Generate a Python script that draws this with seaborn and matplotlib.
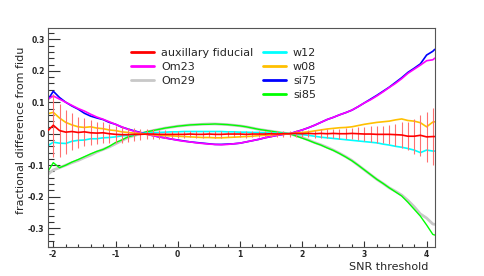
import matplotlib
matplotlib.use('Agg')
import matplotlib.pyplot as plt
from matplotlib.lines import Line2D
from matplotlib.ticker import MultipleLocator, FuncFormatter
import seaborn as sns

# SNR threshold grid
snr = [-2.08, -2.0, -1.9, -1.8, -1.7, -1.6, -1.5, -1.4, -1.3, -1.2, -1.1,
       -1.0, -0.9, -0.8, -0.7, -0.6, -0.5, -0.4, -0.3, -0.2, -0.1,
       0.0, 0.1, 0.2, 0.3, 0.4, 0.5, 0.6, 0.7, 0.8, 0.9,
       1.0, 1.1, 1.2, 1.3, 1.4, 1.5, 1.6, 1.7, 1.8, 1.9,
       2.0, 2.1, 2.2, 2.3, 2.4, 2.5, 2.6, 2.7, 2.8, 2.9,
       3.0, 3.1, 3.2, 3.3, 3.4, 3.5, 3.6, 3.7, 3.8, 3.9,
       4.0, 4.1, 4.13]

aux_fid = [0.011, 0.027, 0.010, 0.005, 0.007, 0.004, 0.006, 0.003, 0.002, 0.003, 0.000,
           -0.002, -0.003, -0.003, -0.002, -0.002, -0.001, -0.001, -0.002, -0.002, -0.002,
           -0.002, -0.002, -0.001, -0.002, -0.002, -0.001, -0.002, -0.002, -0.001, -0.001,
           -0.001, -0.002, -0.001, -0.001, -0.001, 0.000, -0.001, 0.000, 0.000, 0.001,
           0.000, 0.001, 0.000, 0.001, 0.000, 0.001, 0.000, 0.000, 0.001, 0.000,
           -0.001, -0.001, -0.002, -0.002, -0.002, -0.003, -0.004, -0.008, -0.008, -0.005,
           -0.010, -0.009, -0.009]

aux_err = [0.0, 0.100, 0.085, 0.070, 0.060, 0.050, 0.045, 0.040, 0.036, 0.034, 0.030,
           0.028, 0.025, 0.022, 0.020, 0.018, 0.016, 0.015, 0.014, 0.013, 0.012,
           0.011, 0.011, 0.010, 0.010, 0.010, 0.010, 0.010, 0.010, 0.010, 0.010,
           0.010, 0.010, 0.010, 0.010, 0.010, 0.010, 0.010, 0.010, 0.010, 0.010,
           0.010, 0.011, 0.012, 0.013, 0.014, 0.015, 0.016, 0.017, 0.018, 0.020,
           0.022, 0.024, 0.026, 0.028, 0.030, 0.035, 0.040, 0.045, 0.055, 0.065,
           0.080, 0.090, 0.0]

om23 = [0.110, 0.120, 0.110, 0.100, 0.090, 0.080, 0.072, 0.062, 0.053, 0.046, 0.038,
        0.030, 0.022, 0.014, 0.008, 0.003, -0.002, -0.006, -0.010, -0.014, -0.017,
        -0.021, -0.024, -0.026, -0.029, -0.031, -0.033, -0.034, -0.035, -0.034, -0.032,
        -0.030, -0.026, -0.022, -0.018, -0.013, -0.009, -0.005, -0.002, 0.000, 0.006,
        0.012, 0.019, 0.027, 0.036, 0.045, 0.052, 0.060, 0.067, 0.075, 0.086,
        0.098, 0.108, 0.120, 0.133, 0.147, 0.160, 0.175, 0.192, 0.205, 0.218,
        0.232, 0.235, 0.240]

om29 = [-0.128, -0.115, -0.108, -0.100, -0.092, -0.085, -0.076, -0.068, -0.058, -0.050, -0.042,
        -0.032, -0.022, -0.012, -0.006, 0.000, 0.005, 0.010, 0.014, 0.018, 0.021,
        0.024, 0.026, 0.028, 0.029, 0.030, 0.031, 0.031, 0.030, 0.029, 0.027,
        0.025, 0.022, 0.018, 0.014, 0.011, 0.008, 0.005, 0.002, 0.000, -0.006,
        -0.012, -0.020, -0.028, -0.035, -0.043, -0.052, -0.062, -0.073, -0.085, -0.100,
        -0.115, -0.130, -0.145, -0.158, -0.172, -0.183, -0.195, -0.212, -0.232, -0.255,
        -0.268, -0.287, -0.288]

w12 = [-0.037, -0.027, -0.030, -0.031, -0.024, -0.021, -0.020, -0.016, -0.016, -0.013, -0.012,
       -0.010, -0.007, -0.005, -0.003, 0.000, 0.002, 0.003, 0.004, 0.005, 0.006,
       0.006, 0.007, 0.007, 0.007, 0.007, 0.007, 0.007, 0.007, 0.006, 0.006,
       0.005, 0.005, 0.004, 0.004, 0.003, 0.002, 0.002, 0.001, 0.000, -0.001,
       -0.003, -0.005, -0.008, -0.011, -0.013, -0.015, -0.017, -0.019, -0.021, -0.023,
       -0.025, -0.027, -0.029, -0.033, -0.036, -0.040, -0.043, -0.047, -0.052, -0.060,
       -0.052, -0.055, -0.055]

w08 = [0.064, 0.068, 0.050, 0.036, 0.028, 0.022, 0.020, 0.022, 0.018, 0.016, 0.012,
       0.010, 0.006, 0.004, 0.002, 0.000, -0.002, -0.003, -0.005, -0.006, -0.007,
       -0.008, -0.009, -0.010, -0.011, -0.012, -0.012, -0.013, -0.013, -0.012, -0.011,
       -0.010, -0.009, -0.008, -0.006, -0.005, -0.004, -0.002, -0.001, 0.000, 0.002,
       0.004, 0.006, 0.009, 0.012, 0.015, 0.017, 0.019, 0.020, 0.022, 0.026,
       0.030, 0.033, 0.036, 0.038, 0.040, 0.044, 0.047, 0.042, 0.040, 0.035,
       0.022, 0.037, 0.038]

si75 = [0.110, 0.135, 0.115, 0.100, 0.088, 0.078, 0.065, 0.056, 0.050, 0.045, 0.036,
        0.030, 0.021, 0.015, 0.009, 0.004, -0.001, -0.006, -0.010, -0.013, -0.017,
        -0.020, -0.023, -0.026, -0.028, -0.030, -0.032, -0.034, -0.034, -0.033, -0.032,
        -0.030, -0.026, -0.022, -0.018, -0.013, -0.009, -0.005, -0.002, 0.000, 0.006,
        0.012, 0.019, 0.027, 0.036, 0.045, 0.052, 0.060, 0.067, 0.075, 0.086,
        0.098, 0.110, 0.122, 0.135, 0.148, 0.163, 0.178, 0.195, 0.208, 0.222,
        0.250, 0.262, 0.268]

si85 = [-0.118, -0.092, -0.108, -0.100, -0.090, -0.082, -0.073, -0.064, -0.056, -0.050, -0.040,
        -0.028, -0.020, -0.010, -0.005, 0.001, 0.006, 0.010, 0.014, 0.018, 0.021,
        0.024, 0.026, 0.028, 0.029, 0.030, 0.030, 0.031, 0.030, 0.029, 0.027,
        0.025, 0.022, 0.018, 0.014, 0.011, 0.008, 0.005, 0.002, 0.000, -0.007,
        -0.014, -0.021, -0.029, -0.036, -0.045, -0.053, -0.063, -0.074, -0.086, -0.100,
        -0.115, -0.130, -0.145, -0.158, -0.172, -0.185, -0.198, -0.218, -0.240, -0.262,
        -0.290, -0.320, -0.322]

names = ['auxillary fiducial', 'Om23', 'Om29', 'w12', 'w08', 'si75', 'si85']
values = [aux_fid, om23, om29, w12, w08, si75, si85]
colors = ['#ff0000', '#ff00ff', '#c8c8c8', '#00ffff', '#ffc000', '#0000ff', '#00ff00']
widths = [1.2, 1.2, 2.0, 1.2, 1.2, 1.2, 1.0]

sns.set_style('ticks', {'xtick.direction': 'in', 'ytick.direction': 'in'})
plt.rcParams['font.family'] = ['DejaVu Sans']
plt.rcParams['axes.unicode_minus'] = False

fig = plt.figure(figsize=(4.85, 2.76), dpi=100)
ax = fig.add_axes([48 / 485, 1 - 247 / 276, 387 / 485, 219 / 276])

# thick grey under green, blue under magenta, fiducial with errors on top
draw_order = [2, 6, 5, 1, 3, 4]
for i in draw_order:
    sns.lineplot(x=snr, y=values[i], ax=ax, color=colors[i], lw=widths[i],
                 legend=False, zorder=2)
ax.errorbar(snr, aux_fid, yerr=aux_err, fmt='none', ecolor='#ff7070',
            elinewidth=0.8, zorder=3)
sns.lineplot(x=snr, y=aux_fid, ax=ax, color=colors[0], lw=widths[0],
             legend=False, zorder=4)

ax.set_xlim(-2.085, 4.135)
ax.set_ylim(-0.36, 0.336)
ax.xaxis.set_major_locator(MultipleLocator(1))
ax.xaxis.set_minor_locator(MultipleLocator(0.2))
ax.yaxis.set_major_locator(MultipleLocator(0.1))
ax.yaxis.set_minor_locator(MultipleLocator(0.02))
ax.yaxis.set_major_formatter(FuncFormatter(lambda v, p: f'{round(v, 2):g}'))
ax.xaxis.set_major_formatter(FuncFormatter(lambda v, p: f'{round(v, 2):g}'))
ax.tick_params(axis='y', which='major', length=8.5, width=0.8, pad=2.5,
               labelsize=5.5, color='#333333')
ax.tick_params(axis='y', which='minor', length=4.2, width=0.8, color='#333333')
ax.tick_params(axis='x', which='major', length=4.5, width=0.8, pad=2.5,
               labelsize=5.5, color='#333333')
ax.tick_params(axis='x', which='minor', length=2.2, width=0.8, color='#333333')
for lab in ax.get_xticklabels() + ax.get_yticklabels():
    lab.set_fontweight('bold')
for sp in ax.spines.values():
    sp.set_color('#555555')
    sp.set_linewidth(0.8)

fig.text(21 / 485, 1 - 47 / 276, 'fractional difference from fidu', rotation=90,
         ha='center', va='top', fontsize=8)
fig.text(428 / 485, 1 - 267 / 276, 'SNR threshold', ha='right', va='center',
         fontsize=8)

handles = [Line2D([], [], color=c, lw=2) for c in colors]
leg1 = ax.legend(handles[:3], names[:3], loc='upper left',
                 bbox_to_anchor=(131 / 485, 1 - 48 / 276),
                 bbox_transform=fig.transFigure, frameon=False, fontsize=8,
                 handlelength=2.1, handletextpad=0.6, labelspacing=0.35,
                 borderpad=0, borderaxespad=0)
ax.add_artist(leg1)
ax.legend(handles[3:], names[3:], loc='upper left',
          bbox_to_anchor=(263 / 485, 1 - 48 / 276),
          bbox_transform=fig.transFigure, frameon=False, fontsize=8,
          handlelength=2.1, handletextpad=0.6, labelspacing=0.35,
          borderpad=0, borderaxespad=0)

fig.savefig('out.png', dpi=100)
